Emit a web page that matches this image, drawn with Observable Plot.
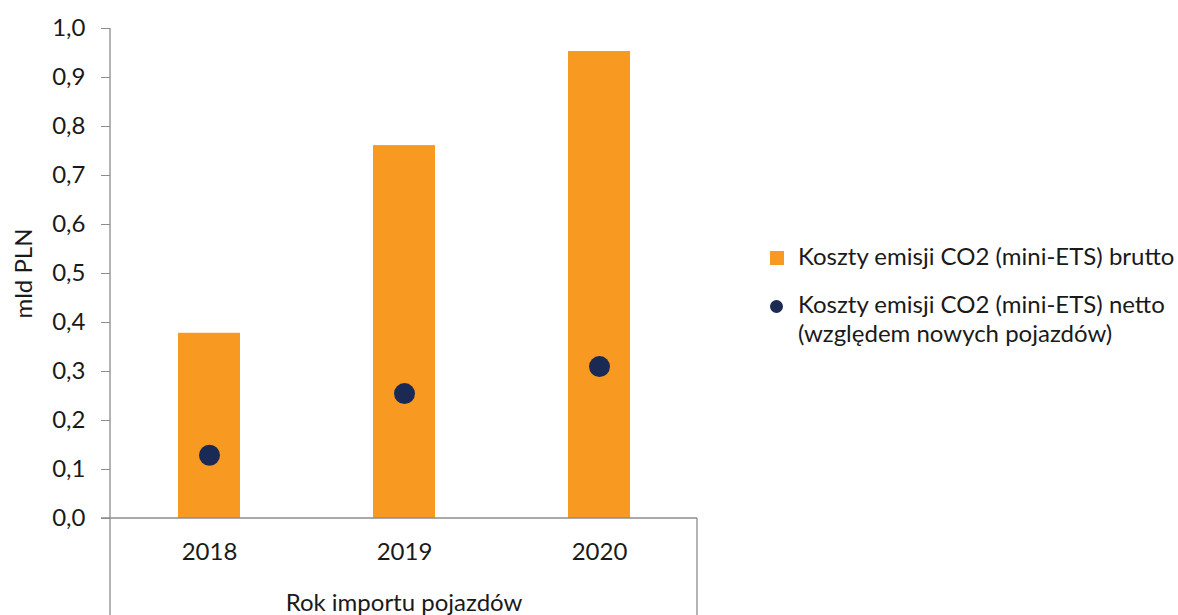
<!DOCTYPE html>
<html>
<head>
<meta charset="utf-8">
<script src="https://cdn.jsdelivr.net/npm/d3@7"></script>
<script src="https://cdn.jsdelivr.net/npm/@observablehq/plot@0.6"></script>
<style>
  html, body { margin: 0; padding: 0; background: #fff; }
  #wrap { position: relative; width: 1178px; height: 615px; font-family: Lato, sans-serif; }
  #legend { position: absolute; left: 770px; top: 241px; font-family: Lato, sans-serif; font-size: 24px; color: #1a1a1a; white-space: nowrap; }
  .item { position: relative; padding-left: 28px; line-height: 29px; margin-bottom: 19px; }
  .sw { position: absolute; left: 0; }
</style>
</head>
<body>
<div id="wrap"></div>
<script>
const years = ["2018", "2019", "2020"];
const brutto = [0.378, 0.761, 0.953];
const netto = [0.129, 0.255, 0.310];
const seriesNames = ["Koszty emisji CO2 (mini-ETS) brutto", "Koszty emisji CO2 (mini-ETS) netto", "(względem nowych pojazdów)"];
const yTicks = [0, 0.1, 0.2, 0.3, 0.4, 0.5, 0.6, 0.7, 0.8, 0.9, 1.0];

const ORANGE = "#F89A22";
const NAVY = "#1B2955";
const AXIS = "#8c8c8c";

const rows = years.map((y, i) => ({year: y, brutto: brutto[i], netto: netto[i]}));
const fmt = d => d.toFixed(1).replace(".", ",");

const plot = Plot.plot({
  width: 1178,
  height: 615,
  marginLeft: 110,
  marginRight: 481,
  marginTop: 28,
  marginBottom: 97,
  style: {fontFamily: "Lato, sans-serif", fontSize: "24px", color: "#1a1a1a", background: "#fff"},
  x: {domain: years, paddingInner: 0.683, paddingOuter: 0.3415},
  y: {domain: [0, 1]},
  marks: [
    Plot.barY(rows, {x: "year", y: "brutto", fill: ORANGE}),
    Plot.dot(rows, {x: "year", y: "netto", r: 10.5, fill: NAVY, stroke: "none"}),
    Plot.axisY({ticks: yTicks, tickFormat: fmt, tickSize: 9, tickPadding: 16, stroke: AXIS, label: "mld PLN", labelAnchor: "center", labelArrow: false, labelOffset: 96, fontSize: 24}),
    Plot.axisX({tickSize: 0, tickPadding: 24, label: "Rok importu pojazdów", labelAnchor: "center", labelArrow: false, labelOffset: 92, fontSize: 24})
  ]
});

// frame lines derived from the scales
const xs = plot.scale("x"), ys = plot.scale("y");
const x0 = xs.range[0], x1 = xs.range[1];
const yb = ys.apply(0), yt = ys.apply(1);
const svg = d3.select(plot);
const g = svg.append("g").attr("stroke", AXIS).attr("stroke-width", 1.3).attr("fill", "none");
g.append("line").attr("x1", x0).attr("x2", x0).attr("y1", yt).attr("y2", 615);
g.append("line").attr("x1", x0 - 9).attr("x2", x1).attr("y1", yb).attr("y2", yb);
g.append("line").attr("x1", x1).attr("x2", x1).attr("y1", yb).attr("y2", 615);

document.getElementById("wrap").appendChild(plot);

// legend
const legend = document.createElement("div");
legend.id = "legend";
legend.innerHTML = `
  <div class="item"><span class="sw" style="top:10px;width:14px;height:14px;background:${ORANGE}"></span>${seriesNames[0]}</div>
  <div class="item"><span class="sw" style="top:11px;left:0px;width:13px;height:13px;border-radius:50%;background:${NAVY}"></span>${seriesNames[1]}<br>${seriesNames[2]}</div>`;
document.getElementById("wrap").appendChild(legend);
</script>
</body>
</html>
